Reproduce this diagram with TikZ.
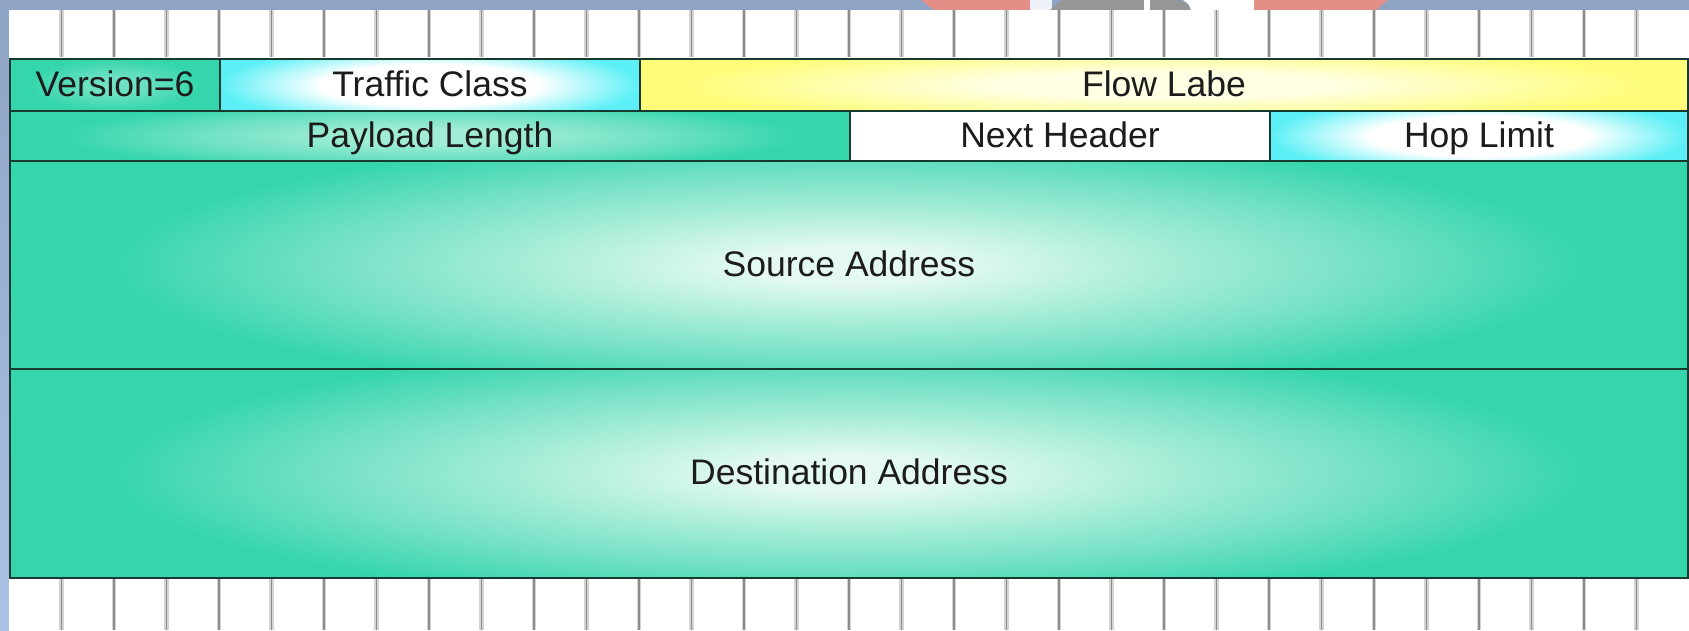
\documentclass[tikz,border=0pt]{standalone}
\usepackage{fontspec}
\setmainfont{Liberation Sans}
\definecolor{bgtop}{RGB}{143,163,196}
\definecolor{bgbot}{RGB}{170,194,230}
\definecolor{tealc}{RGB}{54,214,172}
\definecolor{tealhi}{RGB}{228,249,242}
\definecolor{tealma}{RGB}{172,238,218}
\definecolor{tealmb}{RGB}{112,224,196}
\definecolor{tealsoft}{RGB}{160,236,214}
\definecolor{tealsm}{RGB}{110,225,195}
\definecolor{cyanc}{RGB}{92,240,246}
\definecolor{yellc}{RGB}{255,253,122}
\definecolor{yellhi}{RGB}{255,255,228}
\definecolor{borderc}{RGB}{22,58,48}
\definecolor{txtc}{RGB}{28,28,28}
\definecolor{gridc}{RGB}{140,140,140}
\definecolor{gridh}{RGB}{212,212,212}
\definecolor{pinkc}{RGB}{228,142,136}
\definecolor{grayd}{RGB}{150,150,150}
\definecolor{lightw}{RGB}{236,242,248}
\pgfdeclareradialshading{glowteal}{\pgfpoint{0bp}{0bp}}{color(0bp)=(tealhi); color(3bp)=(tealhi); color(9bp)=(tealma); color(16bp)=(tealmb); color(22bp)=(tealc); color(50bp)=(tealc)}
\pgfdeclareradialshading{glowsoft}{\pgfpoint{0bp}{0bp}}{color(0bp)=(tealsoft); color(5bp)=(tealsoft); color(14bp)=(tealsm); color(22bp)=(tealc); color(50bp)=(tealc)}
\pgfdeclareradialshading{glowver}{\pgfpoint{0bp}{0bp}}{color(0bp)=(tealsm); color(6bp)=(tealsm); color(20bp)=(tealc); color(50bp)=(tealc)}
\pgfdeclareradialshading{glowcyan}{\pgfpoint{0bp}{0bp}}{color(0bp)=(white); color(13bp)=(white); color(25bp)=(cyanc); color(50bp)=(cyanc)}
\pgfdeclareradialshading{glowyell}{\pgfpoint{0bp}{0bp}}{color(0bp)=(yellhi); color(8bp)=(yellhi); color(23bp)=(yellc); color(50bp)=(yellc)}
\tikzset{
  fieldbox/.style={draw=borderc, line width=2pt, inner sep=0pt, anchor=north west,
    text=txtc, font=\fontsize{35.5}{40}\selectfont, text height=26pt, text depth=4pt},
  glow/.style 2 args={path picture={\shade[shading=#1]
      ([yshift=#2]path picture bounding box.north west) rectangle
      ([yshift=-#2]path picture bounding box.south east);}},
  gridline/.style={draw=gridc, line width=1.6pt},
  gridhalo/.style={draw=gridh, line width=4.5pt},
}
\begin{document}
\begin{tikzpicture}[x=1pt,y=-1pt]
\useasboundingbox (0,0) rectangle (1689,630);
% background
\fill[bgtop] (0,0) rectangle (1689,630);
\shade[top color=bgtop, bottom color=bgbot] (0,0) rectangle (9,630);
% decorative fragments at top
\fill[pinkc] (921,0) -- (1030,0) -- (1030,10) -- (934,10) -- cycle;
\fill[lightw] (1030,0) rectangle (1052,10);
\fill[grayd] (1062,0) -- (1144,0) -- (1144,10) -- (1050,10) -- cycle;
\fill[white] (1144,0) rectangle (1150,10);
\fill[grayd] (1150,0) -- (1180,0) .. controls (1188,4) .. (1190,10) -- (1150,10) -- cycle;
\fill[white] (1183,0) .. controls (1189,4) .. (1191,10) -- (1254,10) -- (1254,0) -- cycle;
\fill[pinkc] (1254,0) -- (1388,0) -- (1376,10) -- (1254,10) -- cycle;
% bit grids
\fill[white] (9,10) rectangle (1689,58);
\fill[white] (9,577) rectangle (1689,630);
\foreach \k in {1,...,31} {
  \pgfmathsetmacro\gx{9+52.5*\k}
  \draw[gridhalo] (\gx,10) -- (\gx,57);
  \draw[gridline] (\gx,10) -- (\gx,57);
  \draw[gridhalo] (\gx,578) -- (\gx,630);
  \draw[gridline] (\gx,578) -- (\gx,630);
}
% header fields
\node[fieldbox, glow={glowver}{6pt}, minimum width=210pt, minimum height=52pt] (ver) at (9,58) {Version=6};
\node[fieldbox, glow={glowcyan}{14pt}, minimum width=420pt, minimum height=52pt] (tc) at (219,58) {Traffic Class};
\node[fieldbox, glow={glowyell}{14pt}, minimum width=1048pt, minimum height=52pt] (fl) at (639,58) {Flow Labe};
\node[fieldbox, glow={glowsoft}{14pt}, minimum width=840pt, minimum height=50pt] (pl) at (9,110) {Payload Length};
\node[fieldbox, fill=white, minimum width=420pt, minimum height=50pt] (nh) at (849,110) {Next Header};
\node[fieldbox, glow={glowcyan}{14pt}, minimum width=418pt, minimum height=50pt] (hl) at (1269,110) {Hop Limit};
\node[fieldbox, glow={glowteal}{44pt}, minimum width=1678pt, minimum height=208pt] (src) at (9,160) {Source Address};
\node[fieldbox, glow={glowteal}{44pt}, minimum width=1678pt, minimum height=209pt] (dst) at (9,368) {Destination Address};
\end{tikzpicture}
\end{document}
